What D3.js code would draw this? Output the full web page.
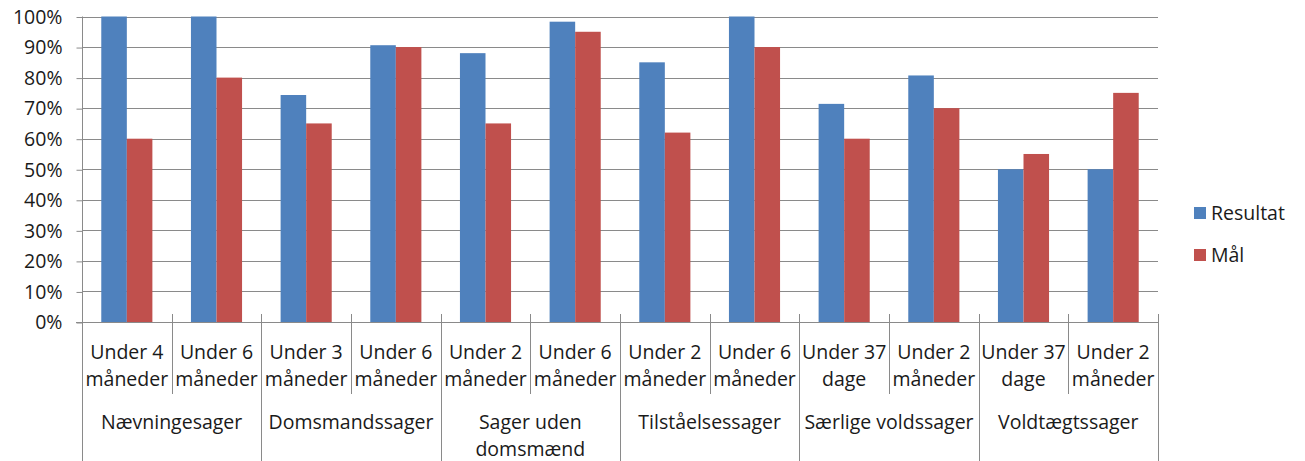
<!DOCTYPE html>
<html>
<head>
<meta charset="utf-8">
<script src="https://cdn.jsdelivr.net/npm/d3@7"></script>
<style>
  html, body { margin: 0; padding: 0; background: #fff; }
  svg text { font-family: "Open Sans", "Noto Sans", sans-serif; fill: #1a1a1a; }
</style>
</head>
<body>
<svg id="chart" width="1305" height="461"></svg>
<script>
// ---- data ----
const subLabels = [
  ["Under 4", "måneder"], ["Under 6", "måneder"],
  ["Under 3", "måneder"], ["Under 6", "måneder"],
  ["Under 2", "måneder"], ["Under 6", "måneder"],
  ["Under 2", "måneder"], ["Under 6", "måneder"],
  ["Under 37", "dage"], ["Under 2", "måneder"],
  ["Under 37", "dage"], ["Under 2", "måneder"]
];
const groupLabels = [
  ["Nævningesager"], ["Domsmandssager"], ["Sager uden", "domsmænd"],
  ["Tilståelsessager"], ["Særlige voldssager"], ["Voldtægtssager"]
];
const seriesNames = ["Resultat", "Mål"];
const resultat = [100, 100, 74.3, 90.6, 88, 98.3, 85, 100, 71.4, 80.7, 50, 50];
const maal = [60, 80, 65, 90, 65, 95, 62, 90, 60, 70, 55, 75];
const yTicks = [0, 10, 20, 30, 40, 50, 60, 70, 80, 90, 100];

// ---- layout ----
const colors = ["#4F81BD", "#C0504D"];
const pLeft = 82, pRight = 1158, pTop = 16.5, pBottom = 322;
const fontSize = 19.5;

const svg = d3.select("#chart");
const idx = d3.range(subLabels.length);

const x = d3.scaleBand().domain(idx).range([pLeft, pRight]).paddingInner(0).paddingOuter(0);
const bw = x.bandwidth();
const gap = bw * 0.43;
const xs = d3.scaleBand().domain([0, 1]).range([gap / 2, bw - gap / 2]);
const y = d3.scaleLinear().domain([0, 100]).range([pBottom, pTop]);

// gridlines
svg.append("g").selectAll("line").data(yTicks.filter(d => d > 0)).join("line")
  .attr("x1", pLeft).attr("x2", pRight)
  .attr("y1", d => Math.round(y(d)) + 0.5).attr("y2", d => Math.round(y(d)) + 0.5)
  .attr("stroke", "#8a8a8a").attr("stroke-width", 1);

// y axis via d3
const yAxis = d3.axisLeft(y).tickValues(yTicks).tickFormat(d => d + "%").tickSize(6).tickPadding(14);
const gy = svg.append("g").attr("transform", `translate(${pLeft + 0.5},0.5)`).call(yAxis);
gy.select(".domain").remove();
gy.selectAll(".tick line").attr("stroke", "#8a8a8a");
gy.selectAll(".tick text").style("font-size", fontSize + "px").attr("fill", "#1a1a1a")
  .style("font-family", "'Open Sans', sans-serif");

// bars
const series = [resultat, maal];
series.forEach((vals, s) => {
  svg.append("g").selectAll("rect").data(idx).join("rect")
    .attr("x", i => x(i) + xs(s))
    .attr("width", xs.bandwidth())
    .attr("y", i => y(vals[i]))
    .attr("height", i => y(0) - y(vals[i]))
    .attr("fill", colors[s]);
});

// left vertical axis line (extends to bottom)
svg.append("line")
  .attr("x1", pLeft + 0.5).attr("x2", pLeft + 0.5)
  .attr("y1", pTop).attr("y2", 461)
  .attr("stroke", "#8a8a8a");

// x axis line
svg.append("line")
  .attr("x1", pLeft - 6).attr("x2", pRight)
  .attr("y1", Math.round(pBottom) + 0.5).attr("y2", Math.round(pBottom) + 0.5)
  .attr("stroke", "#8a8a8a");

// category dividers
const bounds = d3.range(1, subLabels.length + 1);
svg.append("g").selectAll("line").data(bounds).join("line")
  .attr("x1", k => Math.round(pLeft + k * bw) + 0.5)
  .attr("x2", k => Math.round(pLeft + k * bw) + 0.5)
  .attr("y1", 314)
  .attr("y2", k => (k % 2 === 0) ? 461 : 394)
  .attr("stroke", "#8a8a8a");

// sub labels
const subG = svg.append("g");
idx.forEach(i => {
  const t = subG.append("text")
    .attr("x", x(i) + bw / 2)
    .attr("text-anchor", "middle")
    .style("font-size", fontSize + "px");
  subLabels[i].forEach((line, j) => {
    t.append("tspan").attr("x", x(i) + bw / 2).attr("y", 358.5 + j * 27).text(line);
  });
});

// group labels
const grpG = svg.append("g");
groupLabels.forEach((lines, g) => {
  const cx = pLeft + (g * 2 + 1) * bw;
  const t = grpG.append("text").attr("text-anchor", "middle").style("font-size", fontSize + "px");
  lines.forEach((line, j) => {
    t.append("tspan").attr("x", cx).attr("y", 429 + j * 27).text(line);
  });
});

// legend
const lg = svg.append("g");
seriesNames.forEach((name, s) => {
  const yy = 213 + s * 42;
  lg.append("rect").attr("x", 1194).attr("y", yy - 6).attr("width", 12).attr("height", 12)
    .attr("fill", colors[s]);
  lg.append("text").attr("x", 1211).attr("y", yy).attr("dy", "0.35em")
    .style("font-size", fontSize + "px").text(name);
});
</script>
</body>
</html>
